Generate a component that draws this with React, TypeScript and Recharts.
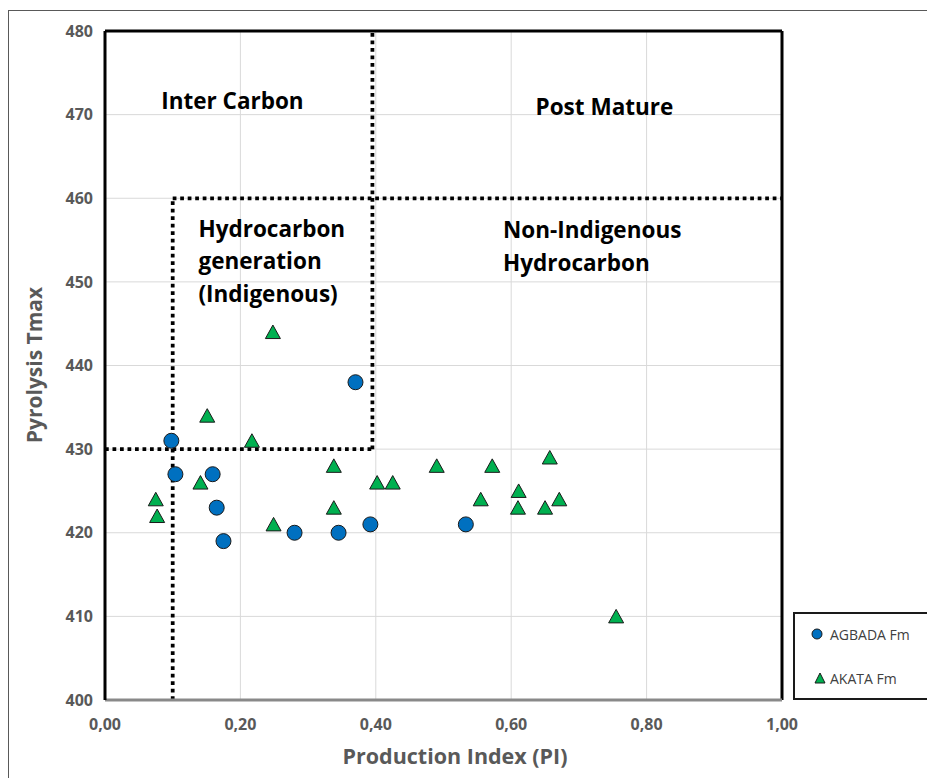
import {
  ReferenceDot,
  ReferenceLine,
  Scatter,
  ScatterChart,
  CartesianGrid,
  XAxis,
  YAxis,
} from "recharts";

// Production Index (PI) vs. pyrolysis Tmax for the two formations
const agbadaPI = [0.098, 0.104, 0.159, 0.165, 0.175, 0.28, 0.345, 0.392, 0.37, 0.533];
const agbadaTmax = [431, 427, 427, 423, 419, 420, 420, 421, 438, 421];

const akataPI = [
  0.075, 0.077, 0.141, 0.151, 0.217, 0.248, 0.249, 0.338, 0.338, 0.402,
  0.425, 0.49, 0.555, 0.572, 0.61, 0.611, 0.65, 0.657, 0.671, 0.755,
];
const akataTmax = [
  424, 422, 426, 434, 431, 444, 421, 428, 423, 426,
  426, 428, 424, 428, 423, 425, 423, 429, 424, 410,
];

const xTicks = [0, 0.2, 0.4, 0.6, 0.8, 1.0];
const yTicks = [400, 410, 420, 430, 440, 450, 460, 470, 480];

// zone boundaries (dotted)
const zoneLines = [
  [{ x: 0.1, y: 400 }, { x: 0.1, y: 460 }],
  [{ x: 0, y: 430 }, { x: 0.395, y: 430 }],
  [{ x: 0.395, y: 430 }, { x: 0.395, y: 480 }],
  [{ x: 0.1, y: 460 }, { x: 1.0, y: 460 }],
];

// zone labels: anchor (left, first baseline) and lines
const zoneLabels = [
  { x: 0.083, y: 470.7, lines: ["Inter Carbon"] },
  { x: 0.636, y: 470.0, lines: ["Post Mature"] },
  { x: 0.138, y: 455.4, lines: ["Hydrocarbon", "generation", "(Indigenous)"] },
  { x: 0.588, y: 455.2, lines: ["Non-Indigenous", "Hydrocarbon"] },
];

const agbada = agbadaPI.map((pi, i) => ({ pi, tmax: agbadaTmax[i] }));
const akata = akataPI.map((pi, i) => ({ pi, tmax: akataTmax[i] }));

const BLUE = "#0070C0";
const GREEN = "#00B050";
const FONT = "'Open Sans', sans-serif";

const Circle = (p: any) => (
  <circle cx={p.cx} cy={p.cy} r={7.5} fill={BLUE} stroke="#1a1a1a" strokeWidth={1} />
);

const Triangle = (p: any) => (
  <path
    d={`M${p.cx},${p.cy - 7} L${p.cx + 7.5},${p.cy + 6.5} L${p.cx - 7.5},${p.cy + 6.5} Z`}
    fill={GREEN}
    stroke="#1a1a1a"
    strokeWidth={1}
  />
);

const fmtX = (v: number) => v.toFixed(2).replace(".", ",");

export default function App() {
  return (
    <div
      style={{
        position: "fixed",
        left: 0,
        top: 0,
        width: 927,
        height: 778,
        overflow: "hidden",
        background: "#fff",
        fontFamily: FONT,
      }}
    >
      <div style={{ position: "absolute", left: 8, top: 8, width: 919, height: 770 }}>
        <div
          style={{
            position: "absolute",
            left: 0,
            top: 2,
            width: 1200,
            height: 1200,
            borderLeft: "1px solid #595959",
            borderTop: "1px solid #595959",
          }}
        />
        <ScatterChart
          width={919}
          height={770}
          margin={{ top: 23, right: 145, bottom: 48, left: 37 }}
          style={{ position: "absolute", left: 0, top: 0 }}
        >
          <CartesianGrid stroke="#d9d9d9" strokeWidth={1} />
          <XAxis
            type="number"
            dataKey="pi"
            domain={[0, 1]}
            ticks={xTicks}
            tickFormatter={fmtX}
            height={30}
            tickLine={false}
            tickMargin={13}
            axisLine={{ stroke: "#898989", strokeWidth: 3 }}
            tick={{ fill: "#595959", fontSize: 16, fontWeight: 700, fontFamily: FONT }}
          />
          <YAxis
            type="number"
            dataKey="tmax"
            domain={[400, 480]}
            ticks={yTicks}
            width={60}
            tickLine={false}
            tickMargin={6}
            axisLine={{ stroke: "#000", strokeWidth: 3 }}
            tick={{ fill: "#595959", fontSize: 16, fontWeight: 700, fontFamily: FONT }}
          />
          <ReferenceLine y={480} stroke="#000" strokeWidth={3} />
          <ReferenceLine x={1} stroke="#000" strokeWidth={3} />
          <Scatter data={agbada} shape={Circle} isAnimationActive={false} />
          <Scatter data={akata} shape={Triangle} isAnimationActive={false} />
          {zoneLines.map((seg, i) => (
            <ReferenceLine
              key={i}
              segment={seg}
              stroke="#000"
              strokeWidth={3.75}
              strokeDasharray="3.75 3.75"
              ifOverflow="visible"
            />
          ))}
          {zoneLabels.map((z, i) => (
            <ReferenceDot
              key={i}
              x={z.x}
              y={z.y}
              r={0}
              ifOverflow="visible"
              shape={(p: any) => (
                <text
                  x={p.cx}
                  y={p.cy}
                  fill="#000"
                  fontSize={22.5}
                  fontWeight={700}
                  fontFamily={FONT}
                >
                  {z.lines.map((line, j) => (
                    <tspan key={j} x={p.cx} dy={j === 0 ? 0 : 32.5}>
                      {line}
                    </tspan>
                  ))}
                </text>
              )}
            />
          ))}
        </ScatterChart>

        {/* axis titles */}
        <div
          style={{
            position: "absolute",
            left: 26,
            top: 357,
            transform: "translate(-50%, -50%) rotate(-90deg)",
            whiteSpace: "nowrap",
            color: "#595959",
            fontSize: 21,
            fontWeight: 700,
          }}
        >
          Pyrolysis Tmax
        </div>
        <div
          style={{
            position: "absolute",
            left: 447,
            top: 747,
            transform: "translate(-50%, -50%)",
            whiteSpace: "nowrap",
            color: "#595959",
            fontSize: 21.5,
            fontWeight: 700,
          }}
        >
          Production Index (PI)
        </div>

        {/* legend */}
        <div
          style={{
            position: "absolute",
            left: 785,
            top: 604,
            width: 300,
            height: 84,
            border: "2px solid #1a1a1a",
            background: "#fff",
          }}
        />
        <svg style={{ position: "absolute", left: 0, top: 0 }} width={919} height={770}>
          <circle cx={809} cy={626} r={5} fill={BLUE} stroke="#1a1a1a" strokeWidth={1} />
          <path d="M812,665 L817,675 L807,675 Z" fill={GREEN} stroke="#1a1a1a" strokeWidth={1} />
          <text x={822} y={626} dominantBaseline="central" fontSize={14} fill="#404040" fontFamily={FONT}>
            AGBADA Fm
          </text>
          <text x={822} y={670} dominantBaseline="central" fontSize={14} fill="#404040" fontFamily={FONT}>
            AKATA Fm
          </text>
        </svg>
      </div>
    </div>
  );
}
